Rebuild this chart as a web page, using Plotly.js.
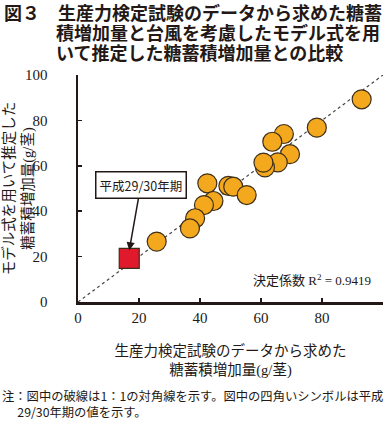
<!DOCTYPE html>
<html>
<head>
<meta charset="utf-8">
<script src="https://cdn.plot.ly/plotly-3.0.1.min.js"></script>
<style>html,body{margin:0;padding:0;background:#fff;}#chart{width:392px;height:421px;}</style>
</head>
<body>
<div id="chart"></div>
<script>
// Observed (production test) vs. predicted (model) sugar accumulation increase (g/stalk)
const observed  = [93.0, 78.3, 67.5, 63.7, 69.5, 65.5, 61.3, 60.8, 42.4, 49.3, 50.9, 55.3, 44.4, 41.3, 38.4, 36.7, 25.8];
const predicted = [89.3, 76.8, 74.0, 70.6, 65.1, 61.5, 59.3, 61.4, 52.3, 51.2, 50.8, 47.1, 44.5, 42.7, 36.9, 32.4, 26.6];
const highlightObserved  = [16.8];
const highlightPredicted = [19.2];
const diagonal = [0, 100];
const tickValues = [0, 20, 40, 60, 80, 100];
const tickLabels = ["0", "20", "40", "60", "80", "100"];

const titleLines = [
  "<b>図３　生産力検定試験のデータから求めた糖蓄</b>",
  "<b>積増加量と台風を考慮したモデル式を用</b>",
  "<b>いて推定した糖蓄積増加量との比較</b>"
];
const noteText = "注：図中の破線は1：1の対角線を示す。図中の四角いシンボルは平成<br>\u3000\u200529/30年期の値を示す。";

const ink = '#231815';
const sans = '"Noto Sans CJK JP", "Noto Sans", sans-serif';
const serif = '"Liberation Serif", "Noto Sans CJK JP", serif';

const traces = [
  {x: diagonal, y: diagonal, mode: 'lines', type: 'scatter', hoverinfo: 'skip',
   line: {color: '#444', width: 1.2, dash: 'dot'}, showlegend: false},
  {x: observed, y: predicted, mode: 'markers', type: 'scatter', cliponaxis: false,
   marker: {symbol: 'circle', size: 19, color: '#F4A81D', line: {color: '#3c2f1a', width: 1.2}},
   showlegend: false},
  {x: highlightObserved, y: highlightPredicted, mode: 'markers', type: 'scatter', cliponaxis: false,
   marker: {symbol: 'square', size: 20, color: '#E0192D', line: {color: '#3c2f1a', width: 1.2}},
   showlegend: false}
];

const annotations = [];
const titleY = [1.278, 1.19, 1.102];
const titleX = [-0.246, -0.0754, -0.0754];
titleLines.forEach((t, i) => annotations.push({
  text: t, xref: 'paper', yref: 'paper', x: titleX[i], y: titleY[i],
  xanchor: 'left', yanchor: 'middle', showarrow: false, borderpad: 0,
  font: {family: sans, size: 18, color: ink}
}));
annotations.push({
  text: noteText, xref: 'paper', yref: 'paper', x: -0.252, y: -0.4097,
  xanchor: 'left', yanchor: 'top', yshift: 9, align: 'left', showarrow: false, borderpad: 0,
  font: {family: sans, size: 12.3, color: ink}
});
annotations.push({
  text: '平成29/30年期', x: highlightObserved[0], y: highlightPredicted[0] + 3.5,
  xref: 'x', yref: 'y', ax: 11.5, ay: -65, showarrow: true,
  arrowhead: 2, arrowsize: 1.1, arrowwidth: 1.5, arrowcolor: ink,
  bgcolor: '#fff', bordercolor: ink, borderwidth: 1.5, borderpad: 3,
  font: {family: sans, size: 12.5, color: ink}
});
annotations.push({
  text: '決定係数 R<sup>2</sup> = 0.9419', x: 96.7, y: 9.7, xref: 'x', yref: 'y',
  xanchor: 'right', yanchor: 'middle', showarrow: false,
  font: {family: serif, size: 13, color: ink}
});

const axisCommon = {
  range: [0, 100], tickvals: tickValues, ticktext: tickLabels,
  showgrid: false, zeroline: false, showline: true, linecolor: ink, linewidth: 2.5,
  ticks: 'inside', ticklen: 4, tickwidth: 1.5, tickcolor: ink,
  tickfont: {family: serif, size: 15, color: ink}, fixedrange: true
};

const layout = {
  width: 392, height: 421,
  margin: {l: 78, r: 9, t: 75, b: 119},
  paper_bgcolor: '#fff', plot_bgcolor: '#fff',
  showlegend: false,
  xaxis: Object.assign({}, axisCommon, {
    ticklabelstandoff: 0,
    title: {text: '生産力検定試験のデータから求めた<br>糖蓄積増加量(g/茎)', standoff: 22,
            font: {family: serif, size: 14.5, color: ink}}
  }),
  yaxis: Object.assign({}, axisCommon, {
    ticklabelstandoff: 25,
    title: {text: 'モデル式を用いて推定した<br>糖蓄積増加量(g/茎)', standoff: 1,
            font: {family: serif, size: 14.5, color: ink}}
  }),
  annotations: annotations
};

Plotly.newPlot('chart', traces, layout, {displayModeBar: false, staticPlot: true});
</script>
</body>
</html>
